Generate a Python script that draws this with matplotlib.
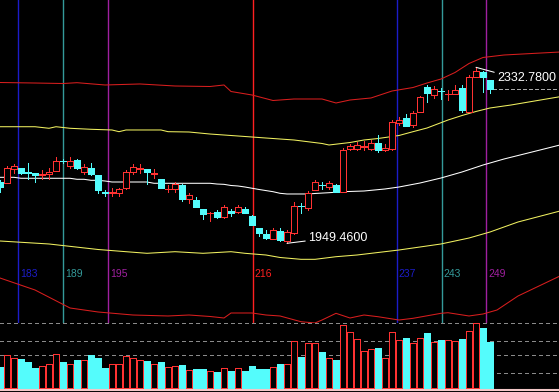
import matplotlib
matplotlib.use('Agg')
import matplotlib.pyplot as plt

# ---------------- data ----------------
opens = [2083.7, 2081.5, 2110.7, 2112.8, 2105.4, 2102.0, 2098.9, 2099.8, 2107.6, 2129.4,
         2118.5, 2130.9, 2105.4, 2112.8, 2098.2, 2061.2, 2058.4, 2058.4, 2069.3, 2105.4,
         2112.0, 2111.3, 2101.1, 2088.9, 2067.1, 2068.4, 2076.5, 2045.3, 2043.8, 2023.5,
         2014.8, 2018.3, 2006.8, 2020.5, 2018.3, 2023.5, 2009.0, 1982.2, 1969.7, 1958.9,
         1975.2, 1954.5, 1971.3, 2031.4, 2027.0, 2066.2, 2077.1, 2072.8, 2076.5, 2061.9,
         2153.8, 2155.5, 2159.2, 2154.9, 2167.3, 2152.0, 2153.8, 2212.2, 2221.7, 2206.1,
         2236.1, 2290.6, 2272.5, 2281.9, 2274.0, 2274.7, 2287.1, 2236.1, 2312.3, 2322.6,
         2305.2]
highs = [2087.4, 2117.9, 2122.2, 2113.5, 2123.7, 2102.6, 2109.1, 2112.8, 2136.8, 2132.4,
         2136.8, 2133.1, 2122.2, 2123.7, 2099.3, 2065.6, 2069.3, 2069.3, 2109.1, 2121.5,
         2122.2, 2112.4, 2111.3, 2089.5, 2076.5, 2083.0, 2077.6, 2059.0, 2051.0, 2024.2,
         2018.3, 2022.0, 2032.9, 2023.5, 2032.9, 2027.5, 2010.1, 1982.8, 1978.5, 1982.2,
         1982.2, 1977.8, 2039.4, 2037.3, 2064.1, 2087.4, 2083.7, 2085.8, 2077.6, 2156.0,
         2165.1, 2170.8, 2173.0, 2174.5, 2185.4, 2165.1, 2218.0, 2225.2, 2231.1, 2237.6,
         2270.3, 2294.3, 2292.1, 2287.1, 2283.4, 2294.3, 2294.3, 2316.0, 2332.78, 2323.7,
         2306.2]
lows = [2061.9, 2080.2, 2102.0, 2100.4, 2088.9, 2082.4, 2088.9, 2088.9, 2107.6, 2123.7,
        2112.8, 2111.3, 2100.4, 2098.9, 2058.4, 2053.2, 2053.2, 2053.2, 2067.8, 2099.8,
        2103.3, 2078.0, 2091.1, 2069.9, 2060.6, 2060.6, 2042.3, 2037.3, 2028.6, 2002.4,
        1998.1, 2003.9, 2004.6, 2009.0, 2016.1, 2014.4, 1988.3, 1966.0, 1959.9, 1957.8,
        1954.5, 1949.46, 1970.8, 2015.5, 2022.7, 2065.6, 2066.7, 2066.7, 2061.2, 2061.2,
        2152.7, 2152.7, 2152.7, 2152.7, 2148.3, 2150.5, 2152.7, 2207.1, 2203.9, 2202.1,
        2235.5, 2257.9, 2265.3, 2263.1, 2261.6, 2273.6, 2234.4, 2235.5, 2311.7, 2279.7,
        2276.2]
closes = [2072.8, 2112.8, 2117.9, 2102.0, 2102.6, 2098.9, 2100.4, 2105.4, 2129.4, 2128.1,
          2129.4, 2113.5, 2115.0, 2100.4, 2065.6, 2059.7, 2060.6, 2067.1, 2103.7, 2116.3,
          2113.5, 2105.4, 2102.6, 2070.6, 2068.4, 2078.6, 2046.0, 2054.7, 2029.2, 2013.3,
          2016.1, 2007.4, 2028.6, 2014.8, 2027.9, 2015.5, 1989.3, 1971.3, 1960.4, 1978.5,
          1955.6, 1974.1, 2030.7, 2030.1, 2058.4, 2083.0, 2075.8, 2081.5, 2061.9, 2152.7,
          2160.8, 2162.5, 2160.8, 2167.3, 2152.7, 2158.1, 2214.3, 2219.1, 2205.0, 2233.9,
          2268.8, 2277.5, 2284.9, 2280.5, 2275.3, 2283.4, 2239.8, 2312.3, 2324.8, 2311.7,
          2284.9]
volumes = [21.3, 33, 30.3, 29, 26.3, 20.3, 22, 23.7, 34, 26.3,
           23.7, 28, 28, 33, 30.3, 20.3, 23.7, 23.7, 32.3, 30.3,
           28, 27.3, 23.7, 26.3, 21.3, 22, 23, 18, 19, 19,
           17.3, 16, 19.7, 17.3, 19.7, 17.3, 22, 19, 19, 21.3,
           24, 24, 47, 31.3, 45.3, 45.3, 36, 30.3, 28, 63,
           55.7, 49, 37, 39, 40.3, 30.3, 55.7, 48, 50, 45.3,
           50, 55, 46.3, 48, 48, 47, 49, 57, 64.7, 60,
           46]

# band lines (bar index, price)
upper_red_x = [0, 5, 9, 11, 15, 20, 25, 30, 32, 33, 36, 39, 42, 46, 48, 50, 53, 56, 59, 61, 63, 65, 67, 69, 72, 76, 80]
upper_red = [2299.7, 2298.6, 2297.5, 2299.3, 2294.3, 2296.5, 2292.1, 2291.0, 2294.3, 2280.1,
             2272.5, 2260.5, 2263.8, 2263.8, 2255.1, 2261.6, 2266.0, 2281.2, 2288.8, 2298.6,
             2307.3, 2321.5, 2341.1, 2354.2, 2359.6, 2362.9, 2366.1]
upper_yel_x = [0, 5, 7, 8, 10, 13, 16, 17, 18, 23, 24, 27, 30, 34, 38, 42, 46, 47, 50, 52, 54, 57, 59, 61, 64, 66, 68, 70, 73, 80]
upper_yel = [2203.4, 2203.4, 2200.0, 2203.4, 2200.0, 2197.8, 2196.3, 2192.6, 2196.3, 2196.3,
             2192.6, 2191.9, 2187.5, 2183.2, 2178.8, 2174.5, 2166.9, 2163.6, 2169.0, 2174.5,
             2177.7, 2184.3, 2192.6, 2200.6, 2218.0, 2227.8, 2236.6, 2244.2, 2250.7, 2268.8]
mid_x = [0, 2, 3, 10, 11, 12, 13, 14, 15, 16, 21, 22, 30, 31, 32, 33, 34, 35, 37, 39, 40, 41, 44, 45, 47, 49, 52, 55, 57, 60, 63, 66, 69, 72, 76, 80]
mid = [2093.2, 2093.2, 2091.1, 2091.1, 2088.9, 2088.9, 2086.7, 2086.7, 2085.2, 2083.0,
       2083.0, 2080.2, 2080.2, 2078.6, 2077.9, 2075.4, 2074.3, 2072.1, 2066.7, 2061.9,
       2058.4, 2056.9, 2056.9, 2058.0, 2059.7, 2061.9, 2063.4, 2067.8, 2072.1, 2080.8,
       2091.7, 2104.8, 2120.0, 2133.1, 2148.3, 2163.6]
lower_yel_x = [0, 7, 14, 18, 21, 25, 29, 33, 35, 38, 40, 43, 45, 48, 51, 57, 63, 67, 70, 74, 80]
lower_yel = [1954.5, 1948.0, 1936.0, 1931.2, 1927.7, 1931.2, 1927.7, 1931.2, 1927.7, 1924.0,
             1918.6, 1914.6, 1914.6, 1920.3, 1924.0, 1934.9, 1948.0, 1961.0, 1974.1, 1995.9,
             2019.8]
lower_red_x = [0, 5, 10, 14, 19, 24, 27, 30, 32, 33, 36, 38, 40, 43, 45, 46, 48, 50, 52, 54, 57, 59, 63, 64, 67, 69, 71, 74, 80]
lower_red = [1873.9, 1847.8, 1808.6, 1799.9, 1793.3, 1791.2, 1793.3, 1790.1, 1786.8, 1797.7,
             1797.7, 1793.3, 1791.2, 1778.7, 1775.9, 1782.4, 1797.0, 1786.8, 1793.3, 1789.6,
             1782.4, 1786.1, 1797.0, 1798.3, 1791.2, 1795.5, 1804.2, 1834.7, 1878.3]

cycle_labels = ['183', '189', '195', '216', '237', '243', '249']
cycle_pos = [2.64, 9.07, 15.5, 36.14, 56.7, 63.14, 69.5]

vol_grid = [64.7, 47, 33, 14.7]

high_label = '2332.7800'
low_label = '1949.4600'

# ---------------- styles ----------------
RED = '#ff3232'
CYAN = '#54fcfc'
BAND_RED = '#d81e1e'
YELLOW = '#f0f060'
cycle_colors = ['#1c1cc8', '#349a9a', '#a020a0', '#ff2020', '#1c1cc8', '#349a9a', '#a020a0']
LW = 0.75      # antialiased lines
LWA = 0.7      # aliased (crisp) lines

fig = plt.figure(figsize=(5.59, 3.92), dpi=100, facecolor='black')
ax = fig.add_axes([0, 69 / 392, 1, 323 / 392], facecolor='black')
axv = fig.add_axes([0, 0, 1, 69 / 392], facecolor='black')
for a in (ax, axv):
    a.set_xlim(0, 559 / 7)
    a.set_xticks([])
    a.set_yticks([])
    for s in a.spines.values():
        s.set_visible(False)
ax.set_ylim(1775.9, 2479.4)
axv.set_ylim(-4, 65)

# cycle vertical lines + labels
for p, lab, col in zip(cycle_pos, cycle_labels, cycle_colors):
    ax.axvline(p, color=col, lw=1.0, zorder=1, snap=True)
    ax.annotate(lab, xy=(p, 0.1517), xycoords=ax.get_xaxis_transform(),
                xytext=(1.5, 0), textcoords='offset pixels', ha='left', va='center',
                color=col, fontsize=7.5, family='Liberation Sans')

# bands
ax.plot(upper_red_x, upper_red, color=BAND_RED, lw=LW, zorder=2)
ax.plot(lower_red_x, lower_red, color=BAND_RED, lw=LW, zorder=2)
ax.plot(upper_yel_x, upper_yel, color=YELLOW, lw=LW, zorder=2)
ax.plot(lower_yel_x, lower_yel, color=YELLOW, lw=LW, zorder=2)
ax.plot(mid_x, mid, color='white', lw=LW, zorder=2)

# candles
n = len(opens)
idx = list(range(n))
W = 0.74
ups = [c >= o for o, c in zip(opens, closes)]
cols = [RED if u else CYAN for u in ups]
fills = ['black' if u else CYAN for u in ups]
tops = [max(o, c) for o, c in zip(opens, closes)]
bots = [min(o, c) for o, c in zip(opens, closes)]
ax.vlines(idx, tops, highs, colors=cols, lw=LWA, zorder=3, antialiased=False)
ax.vlines(idx, lows, bots, colors=cols, lw=LWA, zorder=3, antialiased=False)
ax.bar(idx, [max(t - b, 0.3) for t, b in zip(tops, bots)], bottom=bots, width=W,
       color=fills, edgecolor=cols, lw=LWA, zorder=4, antialiased=False)

# last-close dashed line
ax.hlines(closes[-1], n - 0.55, 559 / 7, colors='#a8a8a8', lw=LWA,
          linestyles=(0, (4, 3)), zorder=2, antialiased=False)

# high / low markers
ihi = highs.index(max(highs))
ilo = lows.index(min(lows))
ax.annotate(high_label, xy=(ihi, highs[ihi]), xytext=(21, -10.5), textcoords='offset pixels',
            ha='left', va='center', color='white', fontsize=9, family='Liberation Sans',
            arrowprops=dict(arrowstyle='-', color='white', lw=LW, shrinkA=0, shrinkB=0,
                            relpos=(0, 0.9)), zorder=5)
ax.annotate(low_label, xy=(ilo, lows[ilo]), xytext=(21, 5), textcoords='offset pixels',
            ha='left', va='center', color='white', fontsize=9, family='Liberation Sans',
            arrowprops=dict(arrowstyle='-', color='white', lw=LW, shrinkA=0, shrinkB=0,
                            relpos=(0, 0.3)), zorder=5)

# volume panel
for g in vol_grid:
    axv.axhline(g, color='#8a8a8a', lw=LWA, ls=(0, (4, 4)), zorder=1, antialiased=False)
axv.bar(idx, volumes, width=W, color=fills, edgecolor=cols, lw=LWA, zorder=3,
        antialiased=False)
axv.axhline(-2, color='#f2c8c8', lw=1.5, zorder=4)

fig.savefig('out.png', dpi=100, facecolor='black')
